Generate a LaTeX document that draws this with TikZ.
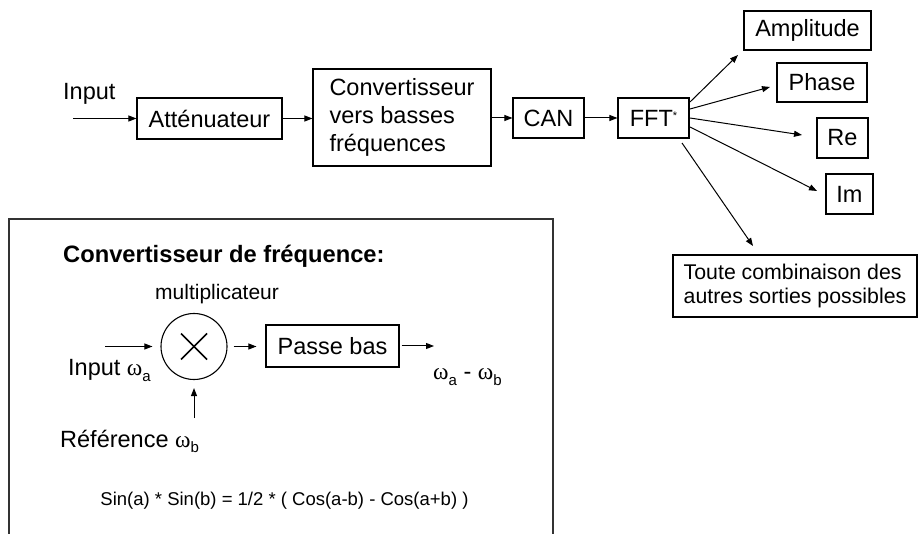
\documentclass[tikz,border=0pt]{standalone}
\usepackage{fontspec}
\setmainfont{Liberation Sans}
\newfontfamily\grkfont{Liberation Serif}
\usetikzlibrary{arrows.meta,calc}
\newcommand{\omsub}[1]{{\grkfont ω}\raisebox{-5.5pt}{\fontsize{15}{15}\selectfont #1}}
\begin{document}
\begin{tikzpicture}[x=1pt,y=-1pt,
  lbl/.style={inner sep=0pt, font=\fontsize{23.5}{27.7}\selectfont},
  box/.style={draw, line width=1.1pt, inner sep=0pt, align=center, lbl},
  arr/.style={-{Triangle[length=8pt,width=6pt]}, line width=1pt}
]
\useasboundingbox (0,0) rectangle (918,534);

% ---------- top chain ----------
\node[lbl, anchor=base west] (inlbl) at (63,100) {Input};
\coordinate (in0) at (73,118.5);
\node[box, minimum width=145pt, minimum height=41pt] (att) at (209.5,118.5) {Atténuateur};
\node[box, minimum width=178pt, minimum height=97pt, align=left] (conv) at (402,117.5)
  {Convertisseur\\vers basses\\fréquences};
\node[box, minimum width=71pt, minimum height=40pt] (can) at (548.5,118) {CAN};
\node[box, minimum width=71pt, minimum height=40pt] (fft) at (653.5,118)
  {FFT\raisebox{7pt}{\fontsize{11}{11}\selectfont *}};

\draw[arr] (in0) -- (att.west |- in0);
\draw[arr] (att.east) -- (conv.west |- att.east);
\draw[arr] (conv.east |- can.west) -- (can.west);
\draw[arr] (can.east) -- (fft.west);

% ---------- outputs ----------
\node[box, minimum width=127pt, minimum height=39pt] (amp) at (807.5,30.5) {Amplitude};
\node[box, minimum width=90pt, minimum height=39pt] (pha) at (822,82.5) {Phase};
\node[box, minimum width=51pt, minimum height=40pt] (re) at (842.5,138) {Re};
\node[box, minimum width=47pt, minimum height=40pt] (im) at (849.5,194) {Im};
\node[box, minimum width=244pt, minimum height=62pt, align=left,
      font=\fontsize{21.3}{24.5}\selectfont] (toute) at (795,286)
  {Toute combinaison des\\autres sorties possibles};

\coordinate (s1) at (690,102);  \coordinate (e1) at (738,55);
\coordinate (s2) at (690,109);  \coordinate (e2) at (770,87);
\coordinate (s3) at (690,118);  \coordinate (e3) at (802,135);
\coordinate (s4) at (690,127);  \coordinate (e4) at (817,191);
\coordinate (s5) at (682,143);  \coordinate (e5) at (753,246);
\draw[arr] (s1) -- (e1);
\draw[arr] (s2) -- (e2);
\draw[arr] (s3) -- (e3);
\draw[arr] (s4) -- (e4);
\draw[arr] (s5) -- (e5);

% ---------- frequency converter panel ----------
\draw[line width=1.1pt, black!80] (9,534) -- (9,219) -- (553,219) -- (553,534);

\node[lbl, anchor=base west, font=\fontsize{23.7}{27}\selectfont\bfseries] (title) at (63,263)
  {Convertisseur de fréquence:};
\node[inner sep=0pt, anchor=base west, font=\fontsize{21}{24}\selectfont] (multlbl) at (155,300)
  {multiplicateur};

\node[draw, circle, line width=1.1pt, minimum size=66pt, inner sep=0pt] (mul) at (194,346.5) {};
\draw[line width=1.6pt] ($(mul)+(-13,-13)$) -- ($(mul)+(13,13)$);
\draw[line width=1.6pt] ($(mul)+(-13,13)$) -- ($(mul)+(13,-13)$);

\coordinate (bin) at (105,346.5);
\draw[arr, shorten >=8pt] (bin) -- (mul.west);
\node[lbl, anchor=base west] (inlbl2) at (68,376) {Input \omsub{a}};

\node[box, minimum width=133pt, minimum height=42pt] (pb) at (332.5,346) {Passe bas};
\draw[arr, shorten <=6pt, shorten >=9pt] (mul.east) -- (pb.west |- mul.east);
\coordinate (outend) at (434,346);
\draw[arr, shorten <=2pt] (pb.east) -- (outend);
\node[lbl, anchor=base west] (outlbl) at (433,380) {\omsub{a} - \omsub{b}};

\coordinate (refst) at (194,418);
\draw[arr, shorten >=8pt] (refst) -- (mul.south);
\node[lbl, anchor=base west] (reflbl) at (60,447) {Référence \omsub{b}};

\node[inner sep=0pt, anchor=base, font=\fontsize{18.5}{22}\selectfont] (formula) at (284.5,505)
  {Sin(a) * Sin(b) = 1/2 * ( Cos(a-b) - Cos(a+b) )};
\end{tikzpicture}
\end{document}
